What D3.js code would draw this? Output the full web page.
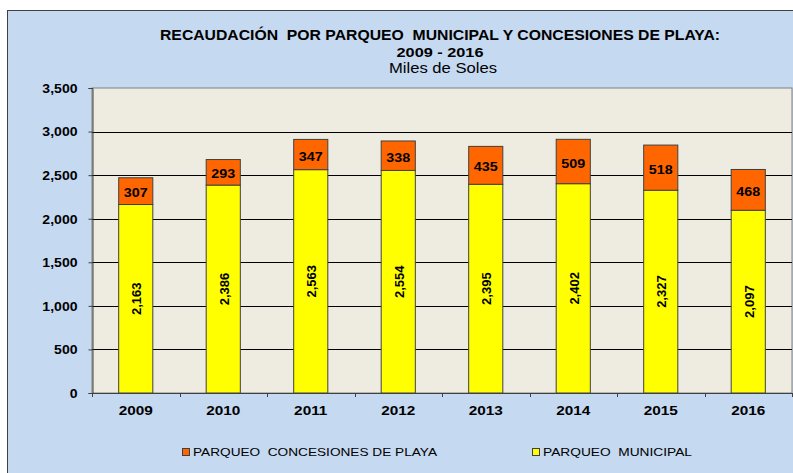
<!DOCTYPE html>
<html>
<head>
<meta charset="utf-8">
<script src="https://cdn.jsdelivr.net/npm/d3@7"></script>
<style>
  html, body { margin: 0; padding: 0; background: #ffffff; }
  svg { display: block; font-family: Arial, "Liberation Sans", sans-serif; }
  text { white-space: pre; }
</style>
</head>
<body>
<svg id="chart" width="793" height="473"></svg>
<script>
// Recaudación anual (miles de soles)
const years = ["2009", "2010", "2011", "2012", "2013", "2014", "2015", "2016"];
const municipal = [2163, 2386, 2563, 2554, 2395, 2402, 2327, 2097];
const concesiones = [307, 293, 347, 338, 435, 509, 518, 468];
const yTicks = [0, 500, 1000, 1500, 2000, 2500, 3000, 3500];
const seriesNames = ["PARQUEO  CONCESIONES DE PLAYA", "PARQUEO  MUNICIPAL"];
const seriesColors = ["#FF6600", "#FFFF00"];

const svg = d3.select("#chart");
const W = 793, H = 473;

// widen a text element horizontally by a factor (the chart's lettering runs wide)
function widen(sel, factor) {
  sel.each(function () {
    const n = this.getComputedTextLength();
    d3.select(this).attr("textLength", n * factor).attr("lengthAdjust", "spacingAndGlyphs");
  });
}
function fitWidth(sel, width) {
  sel.attr("textLength", width).attr("lengthAdjust", "spacingAndGlyphs");
}

// outer chart area
svg.append("rect").attr("x", 7.5).attr("y", 10.5).attr("width", W).attr("height", H)
  .attr("fill", "#C5D9F1").attr("stroke", "#404040").attr("stroke-width", 1);

// titles
svg.append("text").attr("x", 440).attr("y", 40).attr("text-anchor", "middle")
  .attr("font-size", 14).attr("font-weight", "bold").attr("fill", "#000")
  .text("RECAUDACIÓN  POR PARQUEO  MUNICIPAL Y CONCESIONES DE PLAYA:")
  .call(fitWidth, 560);
svg.append("text").attr("x", 440).attr("y", 57).attr("text-anchor", "middle")
  .attr("font-size", 13.5).attr("font-weight", "bold").attr("fill", "#000")
  .text("2009 - 2016")
  .call(fitWidth, 87);
svg.append("text").attr("x", 443).attr("y", 73).attr("text-anchor", "middle")
  .attr("font-size", 14).attr("fill", "#000")
  .text("Miles de Soles")
  .call(fitWidth, 108);

const plot = { left: 92, right: 792, top: 88, bottom: 393 };

const x = d3.scaleBand().domain(years).range([plot.left, plot.right]).paddingInner(0.61).paddingOuter(0.305);
const y = d3.scaleLinear().domain([0, 3500]).range([plot.bottom, plot.top]);

// plot background
svg.append("rect").attr("x", plot.left).attr("y", plot.top)
  .attr("width", plot.right - plot.left).attr("height", plot.bottom - plot.top)
  .attr("fill", "#EEEBE0").attr("stroke", "#808080");

// gridlines
svg.append("g").selectAll("line").data(yTicks.filter(t => t > 0 && t < 3500)).join("line")
  .attr("x1", plot.left).attr("x2", plot.right)
  .attr("y1", d => Math.round(y(d)) + 0.5).attr("y2", d => Math.round(y(d)) + 0.5)
  .attr("stroke", "#000").attr("stroke-width", 1);

// y axis
const yAxis = d3.axisLeft(y).tickValues(yTicks).tickSize(4).tickPadding(11)
  .tickFormat(d3.format(",d"));
const gy = svg.append("g").attr("transform", `translate(${plot.left + 0.5},0)`).call(yAxis);
gy.select(".domain").attr("stroke", "#404040");
gy.selectAll(".tick line").attr("stroke", "#404040");
gy.selectAll(".tick text").attr("font-size", 13.5).attr("font-weight", "bold")
  .attr("fill", "#000").attr("font-family", "Arial, 'Liberation Sans', sans-serif")
  .call(widen, 1.04);

// x axis
svg.append("line").attr("x1", plot.left).attr("x2", plot.right)
  .attr("y1", plot.bottom + 0.5).attr("y2", plot.bottom + 0.5).attr("stroke", "#404040");
svg.append("g").selectAll("line").data(d3.range(years.length + 1)).join("line")
  .attr("x1", i => Math.round(plot.left + i * (plot.right - plot.left) / years.length) + 0.5)
  .attr("x2", i => Math.round(plot.left + i * (plot.right - plot.left) / years.length) + 0.5)
  .attr("y1", plot.bottom).attr("y2", plot.bottom + 4).attr("stroke", "#404040");
svg.append("g").selectAll("text").data(years).join("text")
  .attr("x", d => x(d) + x.bandwidth() / 2).attr("y", 415)
  .attr("text-anchor", "middle").attr("font-size", 13).attr("font-weight", "bold")
  .text(d => d)
  .call(widen, 1.18);

// stacked bars
const rows = years.map((yr, i) => ({ yr, mun: municipal[i], con: concesiones[i] }));
const bars = svg.append("g");
bars.selectAll("rect.mun").data(rows).join("rect").attr("class", "mun")
  .attr("x", d => x(d.yr)).attr("width", x.bandwidth())
  .attr("y", d => y(d.mun)).attr("height", d => y(0) - y(d.mun))
  .attr("fill", seriesColors[1]).attr("stroke", "#404040").attr("stroke-width", 1);
bars.selectAll("rect.con").data(rows).join("rect").attr("class", "con")
  .attr("x", d => x(d.yr)).attr("width", x.bandwidth())
  .attr("y", d => y(d.mun + d.con)).attr("height", d => y(d.mun) - y(d.mun + d.con))
  .attr("fill", seriesColors[0]).attr("stroke", "#404040").attr("stroke-width", 1);

// value labels
const fmt = d3.format(",d");
bars.selectAll("text.con").data(rows).join("text").attr("class", "con")
  .attr("x", d => x(d.yr) + x.bandwidth() / 2)
  .attr("y", d => y(d.mun + d.con / 2) + 6)
  .attr("text-anchor", "middle").attr("font-size", 13).attr("font-weight", "bold")
  .text(d => fmt(d.con))
  .call(widen, 1.1);
bars.selectAll("text.mun").data(rows).join("text").attr("class", "mun")
  .attr("transform", d => `translate(${x(d.yr) + x.bandwidth() / 2 + 5.5},${y(d.mun / 2)}) rotate(-90)`)
  .attr("text-anchor", "middle").attr("font-size", 13).attr("font-weight", "bold")
  .text(d => fmt(d.mun));

// legend
const legend = [
  { name: seriesNames[0], color: seriesColors[0], x: 182.5, w: 244 },
  { name: seriesNames[1], color: seriesColors[1], x: 532.5, w: 149 }
];
const lg = svg.append("g").selectAll("g").data(legend).join("g")
  .attr("transform", d => `translate(${d.x},448.5)`);
lg.append("rect").attr("x", 0).attr("y", 0).attr("width", 7).attr("height", 7)
  .attr("fill", d => d.color).attr("stroke", "#404040").attr("stroke-width", 1);
lg.append("text").attr("x", 10.5).attr("y", 7.5).attr("font-size", 10.5).attr("fill", "#000")
  .text(d => d.name)
  .each(function (d) { d3.select(this).call(fitWidth, d.w); });
</script>
</body>
</html>
